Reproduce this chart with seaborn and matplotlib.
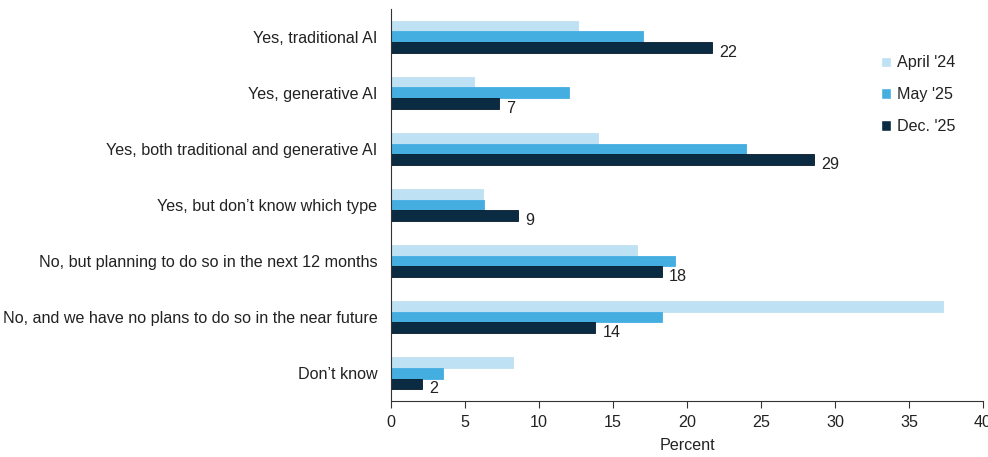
import matplotlib
matplotlib.use("Agg")
import matplotlib.pyplot as plt
import seaborn as sns
import pandas as pd
import numpy as np

categories = [
    "Yes, traditional AI",
    "Yes, generative AI",
    "Yes, both traditional and generative AI",
    "Yes, but don\u2019t know which type",
    "No, but planning to do so in the next 12 months",
    "No, and we have no plans to do so in the near future",
    "Don\u2019t know",
]
periods = ["April '24", "May '25", "Dec. '25"]
april_24 = [12.6, 5.6, 14.0, 6.2, 16.6, 37.3, 8.2]
may_25 = [17.0, 12.0, 24.0, 6.3, 19.2, 18.3, 3.5]
dec_25 = [21.7, 7.3, 28.6, 8.6, 18.3, 13.8, 2.1]
x_ticks = [0, 5, 10, 15, 20, 25, 30, 35, 40]

colors = ["#BEE1F4", "#45AEE1", "#0B2B43"]
FS = 11.6

df = pd.DataFrame({
    "category": categories * 3,
    "period": np.repeat(periods, len(categories)),
    "value": april_24 + may_25 + dec_25,
})

sns.set_theme(style="white")
plt.rcParams["font.family"] = ["Liberation Sans", "DejaVu Sans"]

fig, ax = plt.subplots(figsize=(9.88, 4.57), dpi=100)
fig.subplots_adjust(left=0.396, right=0.995, top=0.981, bottom=0.122)

sns.barplot(
    data=df, y="category", x="value", hue="period", order=categories,
    hue_order=periods, palette=colors, orient="h", width=0.57, gap=0,
    saturation=1, ax=ax, legend=True,
)

# Thin outlines around each bar
for container, col in zip(ax.containers, colors):
    for bar in container:
        bar.set_edgecolor(col if col != colors[2] else "#061a2a")
        bar.set_linewidth(0.6)

# Value labels only on the latest survey, sitting slightly below bar centre
labels = ax.bar_label(ax.containers[2], fmt="%.0f", padding=5, fontsize=FS,
                      color="#222222")
for t in labels:
    t.set_va("center")
    dx, dy = t.xyann
    t.xyann = (dx, dy - 3.6)

ax.set_xlim(0, 40)
ax.set_xticks(x_ticks)
ax.set_xticklabels([str(v) for v in x_ticks], fontsize=FS, color="#222222")
ax.set_xlabel("Percent", fontsize=FS, color="#222222", labelpad=6)
ax.set_ylabel("")
ax.set_ylim(len(categories) - 0.5, -0.5)

ax.tick_params(axis="y", which="major", length=0, labelsize=FS,
               labelcolor="#222222", pad=10)
ax.set_yticks(np.arange(-0.5, len(categories) + 0.5, 1), minor=True)
ax.tick_params(axis="y", which="minor", length=5, width=0.8, color="#333333",
               direction="out")
ax.tick_params(axis="x", which="major", length=5, width=0.8, color="#333333",
               direction="out", bottom=True, pad=5)

for side in ["top", "right"]:
    ax.spines[side].set_visible(False)
for side in ["left", "bottom"]:
    ax.spines[side].set_color("#333333")
    ax.spines[side].set_linewidth(0.8)

leg = ax.legend(
    loc="upper left", bbox_to_anchor=(0.803, 0.918), frameon=False,
    fontsize=FS, handlelength=0.6, handleheight=0.6, handletextpad=0.4,
    labelspacing=1.05, title=None,
)
for txt in leg.get_texts():
    txt.set_color("#222222")

fig.savefig("out.png", dpi=100)
